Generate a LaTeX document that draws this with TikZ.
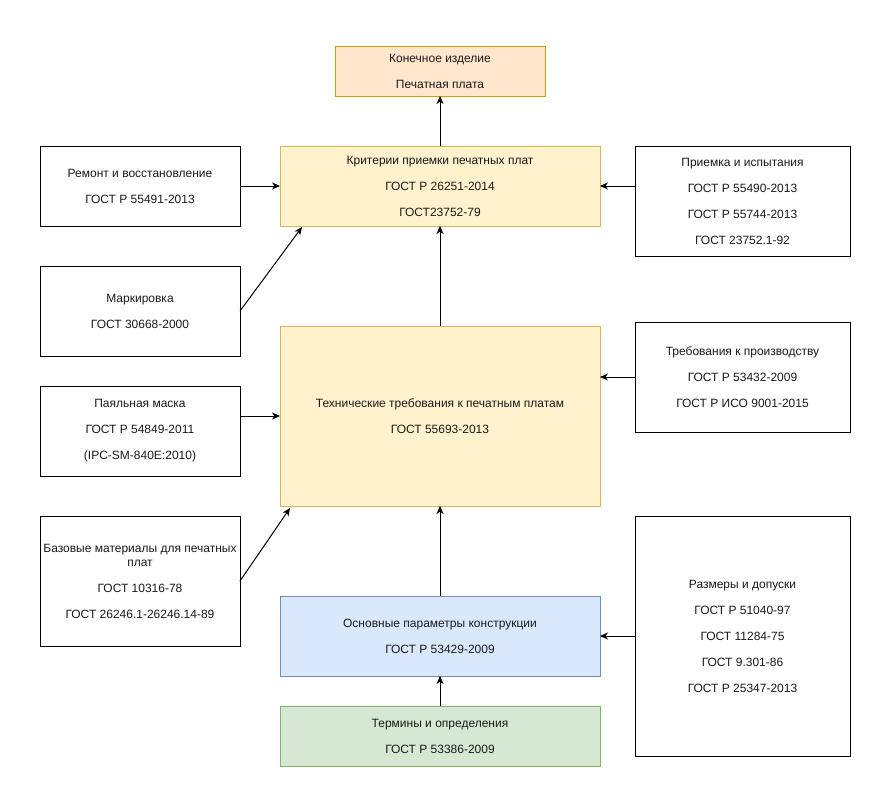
\documentclass[tikz,border=0pt]{standalone}
\usepackage{fontspec}
\setmainfont{Liberation Sans}
\usetikzlibrary{arrows.meta}
\definecolor{orfill}{HTML}{FFE6CC}
\definecolor{ordraw}{HTML}{D79B00}
\definecolor{yefill}{HTML}{FFF2CC}
\definecolor{yedraw}{HTML}{D6B656}
\definecolor{blfill}{HTML}{DAE8FC}
\definecolor{bldraw}{HTML}{6C8EBF}
\definecolor{grfill}{HTML}{D5E8D4}
\definecolor{grdraw}{HTML}{82B366}
\definecolor{txt}{HTML}{1A1A1A}
\begin{document}
\begin{tikzpicture}[x=1pt,y=-1pt,
  every node/.style={font=\fontsize{12}{14}\selectfont, text=txt, align=center, inner sep=0pt, outer sep=0pt},
  plainbox/.style={draw=black, fill=white, line width=1pt, rectangle},
  orbox/.style={draw=ordraw, fill=orfill, line width=1pt, rectangle},
  yebox/.style={draw=yedraw, fill=yefill, line width=1pt, rectangle},
  blbox/.style={draw=bldraw, fill=blfill, line width=1pt, rectangle},
  grbox/.style={draw=grdraw, fill=grfill, line width=1pt, rectangle},
  conn/.style={draw=black, line width=1pt, -{Stealth[length=8pt,width=7pt,inset=2.5pt]}}]
\fill[white] (0,0) rectangle (891,807);
\useasboundingbox (0,0) rectangle (891,807);

\node[orbox, minimum width=210pt, minimum height=50pt] (fin) at (440,71)
  {Конечное изделие\\[12pt]Печатная плата};
\node[yebox, minimum width=320pt, minimum height=80pt] (krit) at (440,186)
  {Критерии приемки печатных плат\\[12pt]ГОСТ Р 26251-2014\\[12pt]ГОСТ23752-79};
\node[plainbox, minimum width=200pt, minimum height=80pt] (rem) at (140,186)
  {Ремонт и восстановление\\[12pt]ГОСТ Р 55491-2013};
\node[plainbox, minimum width=215pt, minimum height=110pt] (prm) at (742.5,201)
  {Приемка и испытания\\[12pt]ГОСТ Р 55490-2013\\[12pt]ГОСТ Р 55744-2013\\[12pt]ГОСТ 23752.1-92};
\node[plainbox, minimum width=200pt, minimum height=90pt] (mark) at (140,311)
  {Маркировка\\[12pt]ГОСТ 30668-2000};
\node[yebox, minimum width=320pt, minimum height=180pt] (tech) at (440,416)
  {Технические требования к печатным платам\\[12pt]ГОСТ 55693-2013};
\node[plainbox, minimum width=215pt, minimum height=110pt] (treb) at (742.5,377)
  {Требования к производству\\[12pt]ГОСТ Р 53432-2009\\[12pt]ГОСТ Р ИСО 9001-2015};
\node[plainbox, minimum width=200pt, minimum height=90pt] (pay) at (140,431)
  {Паяльная маска\\[12pt]ГОСТ Р 54849-2011\\[12pt](IPC-SM-840E:2010)};
\node[plainbox, minimum width=200pt, minimum height=130pt] (baz) at (140,581)
  {Базовые материалы для печатных\\плат\\[12pt]ГОСТ 10316-78\\[12pt]ГОСТ 26246.1-26246.14-89};
\node[blbox, minimum width=320pt, minimum height=80pt] (osn) at (440,636)
  {Основные параметры конструкции\\[12pt]ГОСТ Р 53429-2009};
\node[plainbox, minimum width=215pt, minimum height=240pt] (razm) at (742.5,636)
  {Размеры и допуски\\[12pt]ГОСТ Р 51040-97\\[12pt]ГОСТ 11284-75\\[12pt]ГОСТ 9.301-86\\[12pt]ГОСТ Р 25347-2013};
\node[grbox, minimum width=320pt, minimum height=60pt] (term) at (440,736)
  {Термины и определения\\[12pt]ГОСТ Р 53386-2009};

\coordinate (kmark) at (302,227);
\coordinate (tbaz) at (290,508);

\draw[conn] (krit.north) -- (fin.south);
\draw[conn] (rem.east) -- (krit.west);
\draw[conn] (krit.east -| prm.west) -- (krit.east);
\draw[conn] (mark.east) -- (kmark);
\draw[conn] (tech.north) -- (krit.south);
\draw[conn] (treb.west) -- (tech.east |- treb.west);
\draw[conn] (tech.west -| pay.east) -- (tech.west);
\draw[conn] (baz.east) -- (tbaz);
\draw[conn] (osn.north) -- (tech.south);
\draw[conn] (razm.west) -- (osn.east);
\draw[conn] (term.north) -- (osn.south);
\end{tikzpicture}
\end{document}
